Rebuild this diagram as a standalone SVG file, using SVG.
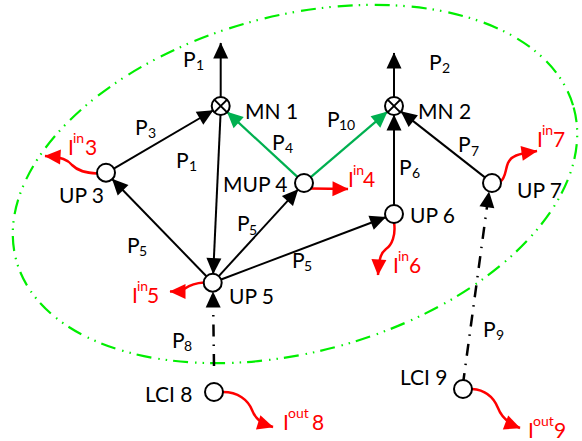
<svg xmlns="http://www.w3.org/2000/svg" width="582" height="441" viewBox="0 0 582 441">
<style>
text{font-family:Lato,"Liberation Sans",sans-serif;font-size:21px;fill:#000}
.r{fill:#ff0000}
.s{font-size:14px}
.ln{fill:none;stroke:#000;stroke-width:2}
.g{fill:none;stroke:#00b050;stroke-width:2.2}
.rd{fill:none;stroke:#ff0000;stroke-width:2.5}
.dd{fill:none;stroke:#000;stroke-width:2.5;stroke-dasharray:12 8 1.5 8}
.nd{fill:#fff;stroke:#000;stroke-width:2}
.el{fill:none;stroke:#00ee00;stroke-width:2.2;stroke-dasharray:15 6 1.5 6 1.5 7}
</style>
<defs>
<marker id="ab" markerUnits="userSpaceOnUse" markerWidth="18" markerHeight="18" refX="15.5" refY="7.5" orient="auto" overflow="visible"><path d="M0,0L16,7.5L0,15z" fill="#000"/></marker>
<marker id="ag" markerUnits="userSpaceOnUse" markerWidth="18" markerHeight="18" refX="15.5" refY="7.5" orient="auto" overflow="visible"><path d="M0,0L16,7.5L0,15z" fill="#00b050"/></marker>
<marker id="ar" markerUnits="userSpaceOnUse" markerWidth="18" markerHeight="18" refX="15.5" refY="7.5" orient="auto" overflow="visible"><path d="M0,0L16,7.5L0,15z" fill="#ff0000"/></marker>
</defs>
<ellipse id="boundary" class="el" cx="295" cy="184" rx="289" ry="168" transform="rotate(-15.35 295 184)"/>
<g id="connectors">
<path class="ln" d="M220.7,97L220.7,43" marker-end="url(#ab)"/>
<path class="ln" d="M113.8,168.6L212.9,110.5" marker-end="url(#ab)"/>
<path class="ln" d="M220.5,115L213.2,273.7" marker-end="url(#ab)"/>
<path class="ln" d="M206.4,276.2L112.3,179.2" marker-end="url(#ab)"/>
<path class="ln" d="M218.8,276.1L297.9,189.6" marker-end="url(#ab)"/>
<path class="ln" d="M221.1,279.5L385.6,217.2" marker-end="url(#ab)"/>
<path class="ln" d="M394,205L394,115" marker-end="url(#ab)"/>
<path class="ln" d="M484.9,177.4L401.1,111.6" marker-end="url(#ab)"/>
<path class="ln" d="M394,97L394,53" marker-end="url(#ab)"/>
<path class="g" d="M297.4,176.9L227.3,112.1" marker-end="url(#ag)"/>
<path class="g" d="M310.8,177.1L387.2,111.9" marker-end="url(#ag)"/>
<path class="dd" d="M214,366L213,292" marker-end="url(#ab)"/>
<path class="dd" style="stroke-dashoffset:5" d="M463.5,380L489,192" marker-end="url(#ab)"/>
<path class="rd" d="M311,188.5L348,189" marker-end="url(#ar)"/>
<path class="rd" d="M97,173.5C85,173 78,171 72,165C68,160 62,157 45,156" marker-end="url(#ar)"/>
<path class="rd" d="M500,182C506,178 505,170 508,163C511,156 517,154 537,151" marker-end="url(#ar)"/>
<path class="rd" d="M394,222C396,235 392,245 386,249C381,253 379,258 378,275" marker-end="url(#ar)"/>
<path class="rd" d="M204,282.5C196,283 190,285 185,288.5C181,291 176,291.5 170,291.5" marker-end="url(#ar)"/>
<path class="rd" d="M223,392C238,392 248,400 252,410C255,418 260,423 273,427" marker-end="url(#ar)"/>
<path class="rd" d="M472,389C486,390 494,398 498,408C501,416 507,423 520,428" marker-end="url(#ar)"/>
</g>
<g id="MN1"><circle class="nd" cx="220.7" cy="106" r="9"/><path class="ln" d="M214.3,99.6L227.1,112.4M227.1,99.6L214.3,112.4"/><text x="245" y="119">MN 1</text></g>
<g id="MN2"><circle class="nd" cx="394" cy="106" r="9"/><path class="ln" d="M387.6,99.6L400.4,112.4M400.4,99.6L387.6,112.4"/><text x="418" y="119">MN 2</text></g>
<g id="UP3"><circle class="nd" cx="106" cy="172.7" r="9"/><text x="59" y="203">UP 3</text></g>
<g id="MUP4"><circle class="nd" cx="304" cy="183" r="9"/><text x="223" y="191.5">MUP 4</text></g>
<g id="UP5"><circle class="nd" cx="212.7" cy="282.7" r="9"/><text x="229" y="304">UP 5</text></g>
<g id="UP6"><circle class="nd" cx="394" cy="214" r="9"/><text x="410" y="223">UP 6</text></g>
<g id="UP7"><circle class="nd" cx="492" cy="183" r="9"/><text x="517" y="198">UP 7</text></g>
<g id="LCI8"><circle class="nd" cx="214" cy="392" r="9"/><text x="145" y="402">LCI 8</text></g>
<g id="LCI9"><circle class="nd" cx="463" cy="389" r="9"/><text x="400" y="385">LCI 9</text></g>
<g id="labels">
<text x="183" y="67">P<tspan class="s" x="196" dy="3">1</tspan></text>
<text x="135" y="135">P<tspan class="s" x="148" dy="3">3</tspan></text>
<text x="176" y="168">P<tspan class="s" x="189" dy="3">1</tspan></text>
<text x="272" y="150">P<tspan class="s" x="285" dy="3">4</tspan></text>
<text x="429" y="70">P<tspan class="s" x="442" dy="3">2</tspan></text>
<text x="327" y="127">P<tspan class="s" x="339" dy="3">10</tspan></text>
<text x="399" y="175">P<tspan class="s" x="412" dy="3">6</tspan></text>
<text x="458" y="152">P<tspan class="s" x="471" dy="4">7</tspan></text>
<text x="292" y="268">P<tspan class="s" x="304" dy="3">5</tspan></text>
<text x="127" y="253">P<tspan class="s" x="139" dy="3">5</tspan></text>
<text x="237" y="231">P<tspan class="s" x="249" dy="4">5</tspan></text>
<text x="172" y="348">P<tspan class="s" x="184" dy="3">8</tspan></text>
<text x="483" y="337">P<tspan class="s" x="496" dy="3">9</tspan></text>
<text class="r" x="68" y="155">I<tspan class="s r" x="73" dy="-12">in</tspan><tspan class="r" x="85" dy="12">3</tspan></text>
<text class="r" x="537" y="147">I<tspan class="s r" x="542" dy="-12">in</tspan><tspan class="r" x="553" dy="12">7</tspan></text>
<text class="r" x="348" y="187">I<tspan class="s r" x="353" dy="-12">in</tspan><tspan class="r" x="363" dy="12">4</tspan></text>
<text class="r" x="393" y="273">I<tspan class="s r" x="398" dy="-12">in</tspan><tspan class="r" x="409" dy="12">6</tspan></text>
<text class="r" x="132" y="303">I<tspan class="s r" x="137" dy="-12">in</tspan><tspan class="r" x="147" dy="12">5</tspan></text>
<text class="r" x="283" y="430">I<tspan class="s r" x="288" dy="-12">out</tspan><tspan class="r" x="312" dy="12">8</tspan></text>
<text class="r" x="528" y="438">I<tspan class="s r" x="533" dy="-12">out</tspan><tspan class="r" x="554" dy="12">9</tspan></text>
</g>
</svg>
